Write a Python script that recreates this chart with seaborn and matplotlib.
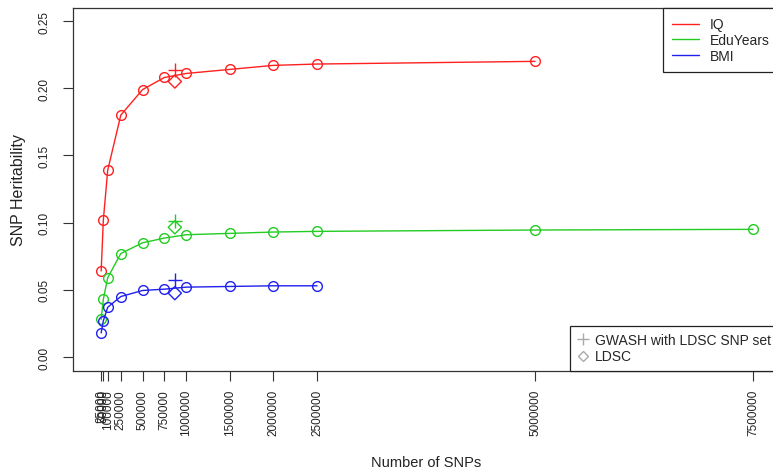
import matplotlib
matplotlib.use("Agg")
import matplotlib.pyplot as plt
import seaborn as sns
import pandas as pd
from matplotlib.lines import Line2D

# ---- data ----
iq_snps = [25000, 50000, 100000, 250000, 500000, 750000, 1000000, 1500000, 2000000, 2500000, 5000000]
iq_h2 = [0.064, 0.102, 0.139, 0.180, 0.199, 0.208, 0.211, 0.214, 0.217, 0.218, 0.220]

edu_snps = [25000, 50000, 100000, 250000, 500000, 750000, 1000000, 1500000, 2000000, 2500000, 5000000, 7500000]
edu_h2 = [0.028, 0.043, 0.059, 0.077, 0.085, 0.0885, 0.091, 0.092, 0.093, 0.0935, 0.0945, 0.095]

bmi_snps = [25000, 50000, 100000, 250000, 500000, 750000, 1000000, 1500000, 2000000, 2500000]
bmi_h2 = [0.018, 0.027, 0.037, 0.045, 0.0495, 0.0505, 0.052, 0.0525, 0.053, 0.053]

ldsc_nsnp = 870000
traits = ["IQ", "EduYears", "BMI"]
gwash_ldsc_set = [0.2135, 0.1015, 0.0575]
ldsc_h2 = [0.205, 0.0965, 0.0475]

x_ticks = [25000, 50000, 100000, 250000, 500000, 750000, 1000000, 1500000,
           2000000, 2500000, 5000000, 7500000]
y_ticks = [0.00, 0.05, 0.10, 0.15, 0.20, 0.25]

colors = {"IQ": "#FF2020", "EduYears": "#22CC22", "BMI": "#2020EE"}

curves = pd.concat([
    pd.DataFrame({"snps": iq_snps, "h2": iq_h2, "trait": "IQ"}),
    pd.DataFrame({"snps": edu_snps, "h2": edu_h2, "trait": "EduYears"}),
    pd.DataFrame({"snps": bmi_snps, "h2": bmi_h2, "trait": "BMI"}),
], ignore_index=True)
extra = pd.DataFrame({"trait": traits, "snps": [ldsc_nsnp] * 3,
                      "gwash": gwash_ldsc_set, "ldsc": ldsc_h2})

sns.set_style("white")
plt.rcParams["font.family"] = ["Liberation Sans", "DejaVu Sans"]

W, H = 773, 477
fig = plt.figure(figsize=(W / 100, H / 100), dpi=100)
l, r, t, b = 73, 779, 9, 372
ax = fig.add_axes([l / W, 1 - b / H, (r - l) / W, (b - t) / H])

for tr in traits:
    d = curves[curves.trait == tr]
    sns.lineplot(data=d, x="snps", y="h2", ax=ax, color=colors[tr], lw=1.0,
                 marker="o", markersize=7, markerfacecolor="none",
                 markeredgecolor=colors[tr], markeredgewidth=1.0,
                 sort=False, legend=False)

for i, tr in enumerate(traits):
    row = extra.iloc[[i]]
    sns.scatterplot(data=row, x="snps", y="gwash", ax=ax, marker="+", s=90,
                    color=colors[tr], linewidth=1.0, legend=False)
    sns.scatterplot(data=row, x="snps", y="ldsc", ax=ax, marker="D", s=45,
                    facecolor="none", edgecolor=colors[tr], linewidth=1.0,
                    legend=False)

ax.set_xlim(-298000, 7798000)
ax.set_ylim(-0.0104, 0.2597)
ax.set_xticks(x_ticks)
ax.set_xticklabels([str(v) for v in x_ticks], rotation=90, fontsize=8.5)
ax.set_yticks(y_ticks)
ax.set_yticklabels([f"{v:.2f}" for v in y_ticks], rotation=90, va="center",
                   fontsize=8.5)
ax.tick_params(axis="both", direction="out", length=7, width=0.8,
               color="#333333", labelcolor="#222222", bottom=True, left=True)
ax.tick_params(axis="x", pad=6)
ax.tick_params(axis="y", pad=9)
for s in ax.spines.values():
    s.set_color("#333333")
    s.set_linewidth(0.9)
ax.set_xlabel("Number of SNPs", fontsize=10.5, labelpad=14, color="#222222")
ax.set_ylabel("SNP Heritability", fontsize=11.5, labelpad=9, color="#222222")

h1 = [Line2D([0], [0], color=colors[tr], lw=1.0) for tr in traits]
leg1 = ax.legend(h1, traits, loc="upper right", bbox_to_anchor=(1.0, 1.0),
                 borderaxespad=0, fancybox=False, edgecolor="#222222",
                 fontsize=10, handlelength=1.9, handletextpad=0.8,
                 labelspacing=0.12, borderpad=0.68, framealpha=1)
leg1.get_frame().set_linewidth(0.9)
ax.add_artist(leg1)

h2 = [Line2D([0], [0], marker="+", color="#AAAAAA", lw=0, markersize=8),
      Line2D([0], [0], marker="D", color="#AAAAAA", lw=0, markersize=5,
             markerfacecolor="none")]
leg2 = ax.legend(h2, ["GWASH with LDSC SNP set", "LDSC"], loc="lower right",
                 bbox_to_anchor=(1.0, 0.0), borderaxespad=0, fancybox=False,
                 edgecolor="#222222", fontsize=10, handlelength=0.7,
                 handletextpad=0.55, labelspacing=0.15, borderpad=0.55,
                 framealpha=1)
leg2.get_frame().set_linewidth(0.9)

fig.savefig("out.png", dpi=100)
